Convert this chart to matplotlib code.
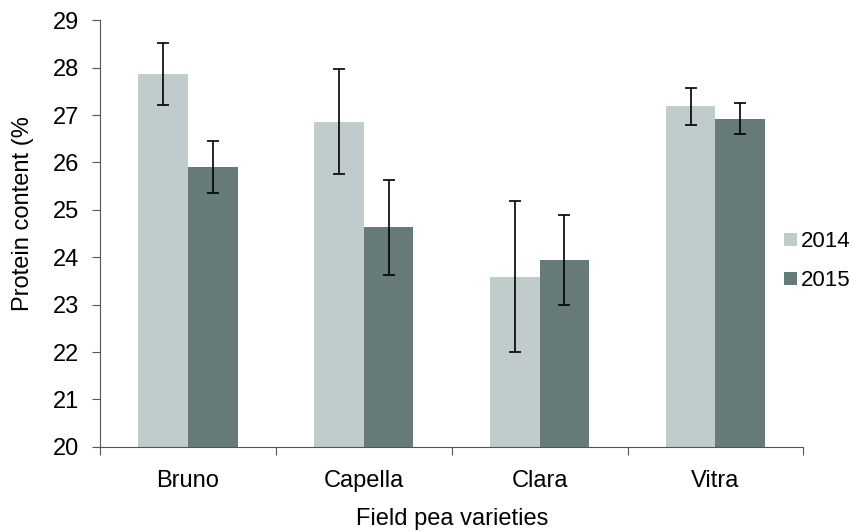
import numpy as np
import matplotlib.pyplot as plt

# Data
varieties = ['Bruno', 'Capella', 'Clara', 'Vitra']
protein_2014 = [27.86, 26.86, 23.59, 27.19]
err_2014 = [0.65, 1.11, 1.59, 0.39]
protein_2015 = [25.90, 24.63, 23.94, 26.92]
err_2015 = [0.55, 1.00, 0.95, 0.33]

plt.rcParams['font.family'] = ['Liberation Sans', 'DejaVu Sans']
fs = 17

fig = plt.figure(figsize=(8.62, 5.32), dpi=100)
ax = fig.add_axes([0.116, 0.160, 0.816, 0.802])

x = np.arange(len(varieties))
w = 0.282
light = '#bfcccb'
dark = '#677a7a'

ax.bar(x - w / 2, protein_2014, w, color=light, label='2014',
       yerr=err_2014, error_kw=dict(ecolor='black', elinewidth=1.2, capsize=4, capthick=1.2))
ax.bar(x + w / 2, protein_2015, w, color=dark, label='2015',
       yerr=err_2015, error_kw=dict(ecolor='black', elinewidth=1.2, capsize=4, capthick=1.2))

ax.set_ylim(20, 29)
ax.set_xlim(-0.5, len(varieties) - 0.5)
ax.set_yticks(range(20, 30))
ax.tick_params(axis='y', labelsize=fs, length=6, color='#555555', pad=9)

# group boundary ticks and centred labels
ax.set_xticks(np.arange(-0.5, len(varieties)), labels=[''] * (len(varieties) + 1))
ax.set_xticks(x, labels=varieties, minor=True)
ax.tick_params(axis='x', which='major', length=6, color='#555555')
ax.tick_params(axis='x', which='minor', length=0, labelsize=fs, pad=17)

for s in ['top', 'right']:
    ax.spines[s].set_visible(False)
for s in ['left', 'bottom']:
    ax.spines[s].set_color('#555555')

ax.set_xlabel('Field pea varieties', fontsize=fs, labelpad=11)
ax.set_ylabel('Protein content (%', fontsize=fs)
ax.yaxis.set_label_coords(34 / 862, 0.598, transform=fig.transFigure)

fig.legend(loc='center left', bbox_to_anchor=(0.897, 0.509), frameon=False,
           borderpad=0, fontsize=16, handlelength=0.55, handleheight=0.55,
           handletextpad=0.2, labelspacing=0.8)

fig.savefig('out.png', dpi=100)
